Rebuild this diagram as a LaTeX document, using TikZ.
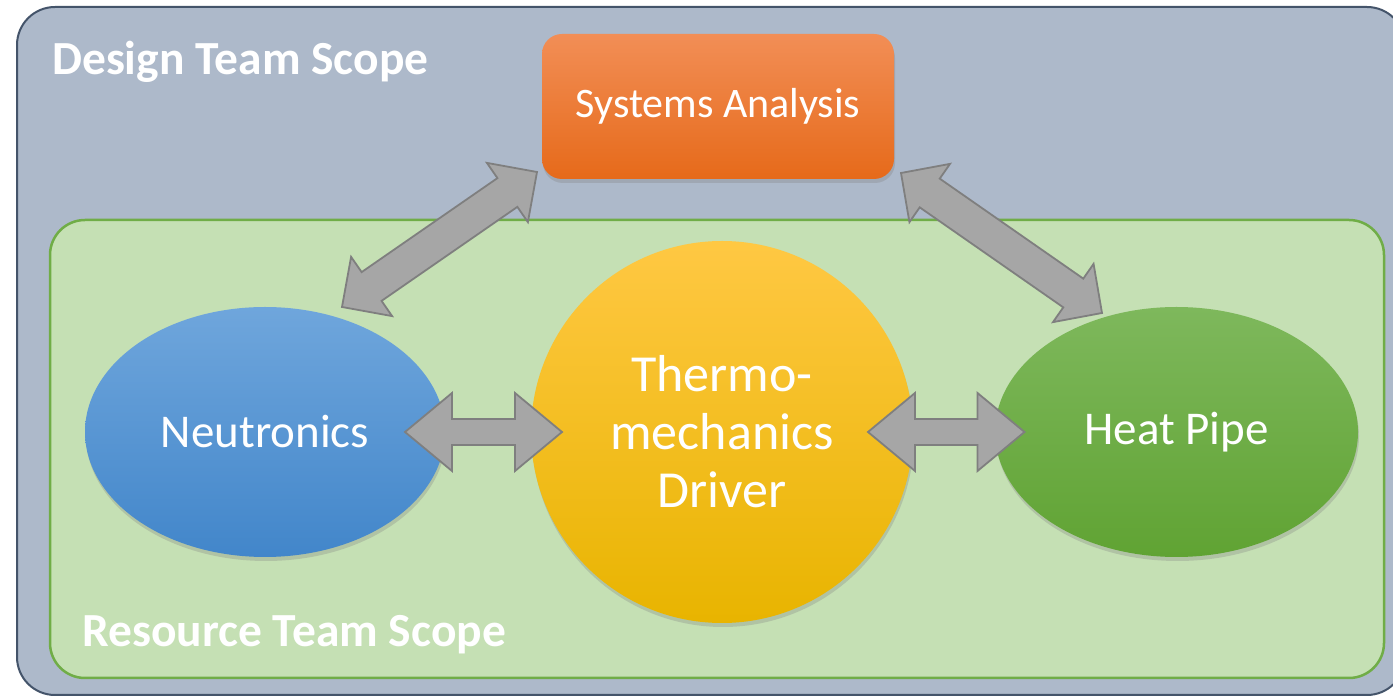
\documentclass[tikz,border=0pt]{standalone}
\usepackage{fontspec}
\setmainfont{Carlito}
\usepackage{xcolor}
\usepackage{tikz}
\usetikzlibrary{calc,shapes.geometric,shadows}
\definecolor{ScopeGray}{HTML}{ADB9CA}
\definecolor{ScopeEdge}{HTML}{44546A}
\definecolor{TeamGreen}{HTML}{C5E0B4}
\definecolor{TeamEdge}{HTML}{70AD47}
\definecolor{OrangeTop}{HTML}{F28E56}
\definecolor{OrangeBot}{HTML}{E66A1A}
\definecolor{BlueTop}{HTML}{6FA6DC}
\definecolor{BlueBot}{HTML}{4286CA}
\definecolor{GoldTop}{HTML}{FFC843}
\definecolor{GoldBot}{HTML}{E8B400}
\definecolor{LeafTop}{HTML}{7EB85C}
\definecolor{LeafBot}{HTML}{60A333}
\definecolor{ArrowFill}{HTML}{A6A6A6}
\definecolor{ArrowEdge}{HTML}{7F7F7F}

% block arrow with two heads: from, to, shaft half width, head half width, head length
\newcommand{\DblArrow}[5]{%
  \draw[blockarrow] (#1)
    -- ($(#1)!#5!(#2)!#4!90:(#2)$) -- ($(#1)!#5!(#2)!#3!90:(#2)$)
    -- ($(#2)!#5!(#1)!#3!-90:(#1)$) -- ($(#2)!#5!(#1)!#4!-90:(#1)$)
    -- (#2)
    -- ($(#2)!#5!(#1)!#4!90:(#1)$) -- ($(#2)!#5!(#1)!#3!90:(#1)$)
    -- ($(#1)!#5!(#2)!#3!-90:(#2)$) -- ($(#1)!#5!(#2)!#4!-90:(#2)$)
    -- cycle;}

\begin{document}
\begin{tikzpicture}[x=1pt,y=1pt,
  scopetext/.style={text=white,inner sep=0pt,font=\bfseries\fontsize{47.5}{52}\selectfont,anchor=base west},
  blob/.style={text=white,outer sep=0pt,inner sep=0pt,
    drop shadow={shadow xshift=1pt,shadow yshift=-4pt,opacity=.3}},
  blockarrow/.style={fill=ArrowFill,draw=ArrowEdge,line width=1.8pt}]
  \useasboundingbox (0,0) rectangle (1393,696);

  % scopes
  \draw[fill=ScopeGray,draw=ScopeEdge,line width=2pt,rounded corners=38pt] (17,1) rectangle (1405,689);
  \draw[fill=TeamGreen,draw=TeamEdge,line width=2.5pt,rounded corners=35pt] (50,18) rectangle (1384,476);
  \node[scopetext] (dts) at (52,621) {Design Team Scope};
  \node[scopetext] (rts) at (82,49) {Resource Team Scope};

  % codes
  \node[blob,rectangle,rounded corners=20pt,minimum width=352pt,minimum height=145pt,
    top color=OrangeTop,bottom color=OrangeBot,font=\fontsize{42}{50}\selectfont] (sys) at (718,589.5) {Systems Analysis};
  \node[blob,ellipse,minimum width=360pt,minimum height=250pt,
    top color=BlueTop,bottom color=BlueBot,font=\fontsize{47}{56}\selectfont] (neu) at (265,264) {Neutronics};
  \node[blob,circle,minimum size=382pt,align=center,
    top color=GoldTop,bottom color=GoldBot,font=\fontsize{52}{58}\selectfont] (thm) at (722,264) {Thermo-\\mechanics\\Driver};
  \node[blob,ellipse,minimum width=363pt,minimum height=250pt,
    top color=LeafTop,bottom color=LeafBot,font=\fontsize{47}{56}\selectfont] (hp) at (1176.5,264) {Heat Pipe};

  % arrow ends
  \coordinate (neu-up) at ([xshift=77pt]neu.north);
  \coordinate (sys-l) at ([shift={(-5pt,7pt)}]sys.south west);
  \coordinate (sys-r) at ([shift={(7pt,6pt)}]sys.south east);
  \coordinate (hp-up) at ([shift={(-74.5pt,-6pt)}]hp.north);
  \coordinate (neu-r) at ([xshift=-40pt]neu.east);
  \coordinate (thm-l) at ([xshift=31pt]thm.west);
  \coordinate (thm-r) at ([xshift=-45pt]thm.east);
  \coordinate (hp-l) at ([xshift=29.5pt]hp.west);

  % links
  \DblArrow{neu-up}{sys-l}{17.5pt}{36pt}{36pt}
  \DblArrow{sys-r}{hp-up}{17.5pt}{35.5pt}{35pt}
  \DblArrow{neu-r}{thm-l}{13pt}{39pt}{47pt}
  \DblArrow{thm-r}{hp-l}{13pt}{39pt}{47pt}
\end{tikzpicture}
\end{document}
